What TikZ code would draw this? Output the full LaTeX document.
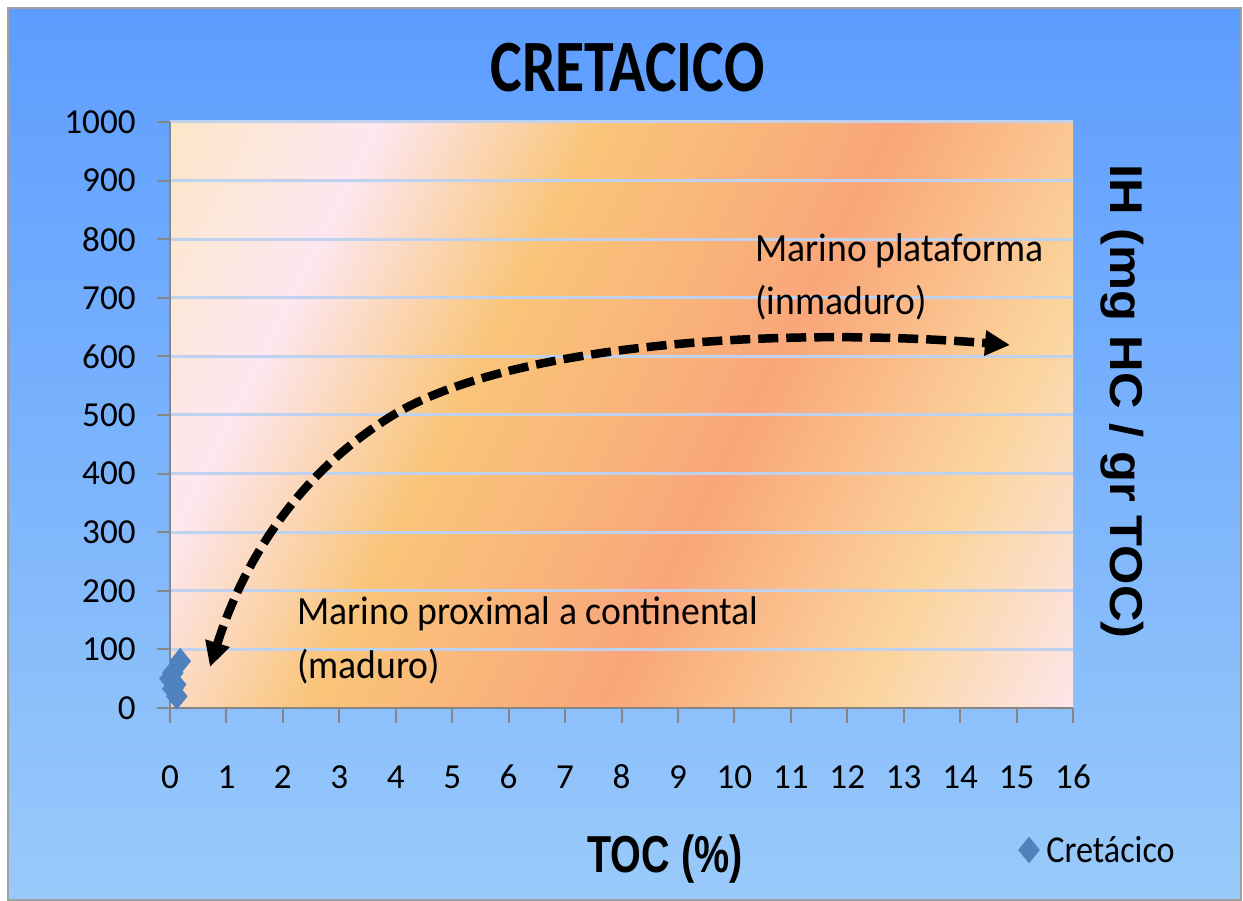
\documentclass[tikz,border=0pt]{standalone}
\usepackage{fontspec}
\setmainfont{Carlito}
\newfontfamily\titlefont{Carlito}[FakeStretch=0.81]
\newfontfamily\axisfont{Liberation Sans}[FakeStretch=0.76]
\newfontfamily\ihfont{Liberation Sans}[FakeStretch=1.1]
\newfontfamily\notefont{Carlito}[FakeStretch=0.94]
\newfontfamily\legendfont{Carlito}[FakeStretch=0.9]
\usetikzlibrary{shapes.geometric,arrows.meta}
\definecolor{bgtop}{RGB}{93,157,255}
\definecolor{bgbottom}{RGB}{153,202,250}
\definecolor{frame}{RGB}{160,160,160}
\definecolor{axisgray}{RGB}{134,134,134}
\definecolor{grid}{RGB}{190,210,240}
\definecolor{series}{RGB}{79,129,189}
\definecolor{cream}{RGB}{251,231,200}
\definecolor{blush}{RGB}{253,231,240}
\definecolor{amber}{RGB}{249,197,122}
\definecolor{salmon}{RGB}{249,166,122}
\definecolor{peach}{RGB}{251,212,155}
\definecolor{rose}{RGB}{253,230,235}
\pgfdeclarehorizontalshading{sunset}{740bp}{color(0bp)=(cream); color(107bp)=(blush); color(217bp)=(amber); color(369bp)=(salmon); color(495bp)=(peach); color(607bp)=(rose)}

\begin{document}
\begin{tikzpicture}[x=0.02cm,y=-0.02cm]
  \tikzset{gridline/.style={draw=grid,line width=0.06cm}}
  \tikzset{axisline/.style={draw=axisgray,line width=0.04cm}}
  \tikzset{ticklabel/.style={inner sep=0pt,font=\fontsize{20}{24}\selectfont}}
  \tikzset{note/.style={inner sep=0pt,align=left,font=\notefont\fontsize{22.8}{30.4}\selectfont}}
  \tikzset{datapt/.style={diamond,fill=series,inner sep=0pt,minimum width=0.44cm,minimum height=0.54cm}}
  \tikzset{trend/.style={draw,line width=0.17cm,dash pattern=on 0.4cm off 0.16cm,{Triangle[length=0.5cm,width=0.48cm]}-{Triangle[length=0.5cm,width=0.48cm]}}}

  \def\xo{170}
  \def\yo{708}
  \def\xu{56.44}
  \def\yu{0.586}

  \useasboundingbox (0,0) rectangle (1243,901);
  \shade[top color=bgtop,bottom color=bgbottom,draw=frame,line width=0.04cm] (8,8) rectangle (1241,900);

  \begin{scope}
    \clip (\xo,122) rectangle (1073,\yo);
    \node[inner sep=0pt,outer sep=0pt,anchor=west,rotate=-26.57] (plotshade) at (\xo,122) {\pgfuseshading{sunset}};
  \end{scope}

  \foreach \v in {100,200,...,1000}
    \draw[gridline] (\xo,{\yo-\yu*\v}) -- (1073,{\yo-\yu*\v});

  \draw[axisline] (\xo,122) -- (\xo,\yo) -- (1073,\yo);
  \foreach \v in {0,100,...,1000} {
    \draw[axisline] (157,{\yo-\yu*\v}) -- (\xo,{\yo-\yu*\v});
    \node[ticklabel,anchor=east] (ylab\v) at (136,{\yo-\yu*\v}) {\v};
  }
  \foreach \t in {0,...,16} {
    \draw[axisline] ({\xo+\xu*\t},\yo) -- ({\xo+\xu*\t},723);
    \node[ticklabel] (xlab\t) at ({\xo+\xu*\t},777) {\t};
  }

  \foreach \t/\v [count=\i] in {0.18/80,0.05/60,0.0/50,0.1/40,0.05/33,0.12/20}
    \node[datapt] (pt\i) at ({\xo+\xu*\t},{\yo-\yu*\v}) {};

  \coordinate (mature) at (210,667);
  \coordinate (knee) at (390,417);
  \coordinate (immature) at (1010,345);
  \draw[trend] (mature) .. controls (243,562.5) and (296.5,475.3) .. (knee) .. controls (500,348) and (760,325) .. (immature);

  \node[note,anchor=base west] (platform) at (755,315) {Marino plataforma\\(inmaduro)};
  \node[note,anchor=base west] (proximal) at (297,678) {Marino proximal a continental\\(maduro)};

  \node[inner sep=0pt,anchor=base,font=\titlefont\bfseries\fontsize{42}{50}\selectfont] (title) at (627.5,92) {CRETACICO};
  \node[inner sep=0pt,anchor=base,font=\axisfont\bfseries\fontsize{29.6}{35}\selectfont] (toclabel) at (665,872) {TOC (\%)};
  \node[inner sep=0pt,anchor=base,rotate=-90,font=\ihfont\bfseries\fontsize{26.2}{31}\selectfont] (ihlabel) at (1110,401.5) {IH (mg HC / gr TOC)};

  \node[datapt] (legendmark) at (1029,850) {};
  \node[inner sep=0pt,anchor=base west,font=\legendfont\fontsize{21.6}{26}\selectfont] (legendtext) at (1046,862) {Cretácico};

\end{tikzpicture}
\end{document}
